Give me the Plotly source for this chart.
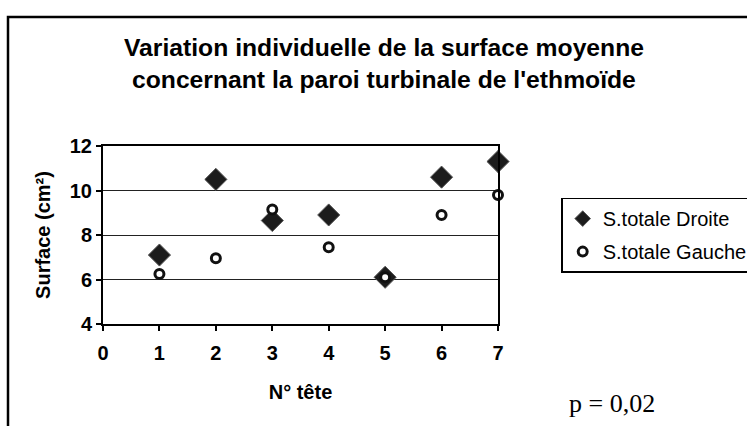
import plotly.graph_objects as go

# N° tête (specimen number) and mean surfaces in cm²
tete = [1, 2, 3, 4, 5, 6, 7]
droite = [7.1, 10.5, 8.65, 8.9, 6.1, 10.6, 11.3]
gauche = [6.25, 6.95, 9.15, 7.45, 6.1, 8.9, 9.8]

x_ticks = [0, 1, 2, 3, 4, 5, 6, 7]
y_ticks = [4, 6, 8, 10, 12]

title_lines = [
    "Variation individuelle de la surface moyenne",
    "concernant la paroi turbinale de l'ethmoïde",
]
p_text = "p = 0,02"

SANS = "Liberation Sans, Arial, sans-serif"
SERIF = "Liberation Serif, Times New Roman, serif"

DIAMOND = dict(symbol="diamond", color="#1c1c1c",
               line=dict(width=1, color="#555555"))
RING = dict(symbol="circle", color="white",
            line=dict(width=3, color="#111111"))

fig = go.Figure()

fig.add_trace(go.Scatter(
    x=tete, y=droite, mode="markers", name="S.totale Droite",
    showlegend=False, marker=dict(size=17, **DIAMOND), cliponaxis=False,
))
fig.add_trace(go.Scatter(
    x=tete, y=gauche, mode="markers", name="S.totale Gauche",
    showlegend=False, marker=dict(size=9, **RING), cliponaxis=False,
))

# legend entries with smaller symbols than the plotted points
fig.add_trace(go.Scatter(
    x=[None], y=[None], mode="markers", name="S.totale Droite",
    legendgroup="d", marker=dict(size=12, **DIAMOND),
))
fig.add_trace(go.Scatter(
    x=[None], y=[None], mode="markers", name="S.totale Gauche",
    legendgroup="g", marker=dict(size=9, **RING),
))

axis_common = dict(
    showline=True, linecolor="black", linewidth=2, mirror=True,
    ticks="outside", ticklen=5, tickwidth=1.5, tickcolor="black",
    tickfont=dict(family=SANS, size=20, color="black", weight="bold"),
    zeroline=False,
)

fig.update_xaxes(
    range=[0, 7], tickvals=x_ticks, showgrid=False,
    ticklabelstandoff=5,
    title=dict(text="<b>N° tête</b>", standoff=22,
               font=dict(family=SANS, size=20, color="black")),
    **axis_common,
)
fig.update_yaxes(
    range=[4, 12], tickvals=y_ticks, showgrid=True,
    gridcolor="#222222", gridwidth=1,
    title=dict(text="<b>Surface (cm²)</b>", standoff=14,
               font=dict(family=SANS, size=20, color="black")),
    **axis_common,
)

# two-line title
for txt, yp in zip(title_lines, [1.556, 1.373]):
    fig.add_annotation(
        text=f"<b>{txt}</b>", xref="paper", yref="paper",
        x=0.711, y=yp, xanchor="center", yanchor="middle",
        showarrow=False, font=dict(family=SANS, size=24.7, color="black"),
    )

fig.add_annotation(
    text=p_text, xref="paper", yref="paper",
    x=1.289, y=-0.444, xanchor="center", yanchor="middle",
    showarrow=False, font=dict(family=SERIF, size=26, color="black"),
)

# outer chart frame
fig.add_shape(
    type="rect", xref="paper", yref="paper",
    x0=-0.2405, y0=-0.75, x1=1.75, y1=1.7247,
    line=dict(color="black", width=2.5), fillcolor="rgba(0,0,0,0)",
    layer="below",
)

fig.update_layout(
    width=747, height=426,
    margin=dict(l=103, r=249, t=146, b=102, autoexpand=False),
    paper_bgcolor="white", plot_bgcolor="white",
    showlegend=True,
    legend=dict(
        x=1.16, y=0.71, xanchor="left", yanchor="top",
        bgcolor="white", bordercolor="black", borderwidth=1.5,
        font=dict(family=SANS, size=20, color="black"),
        traceorder="grouped", tracegroupgap=4,
        itemsizing="trace",
    ),
)

fig.write_html("out.html")
